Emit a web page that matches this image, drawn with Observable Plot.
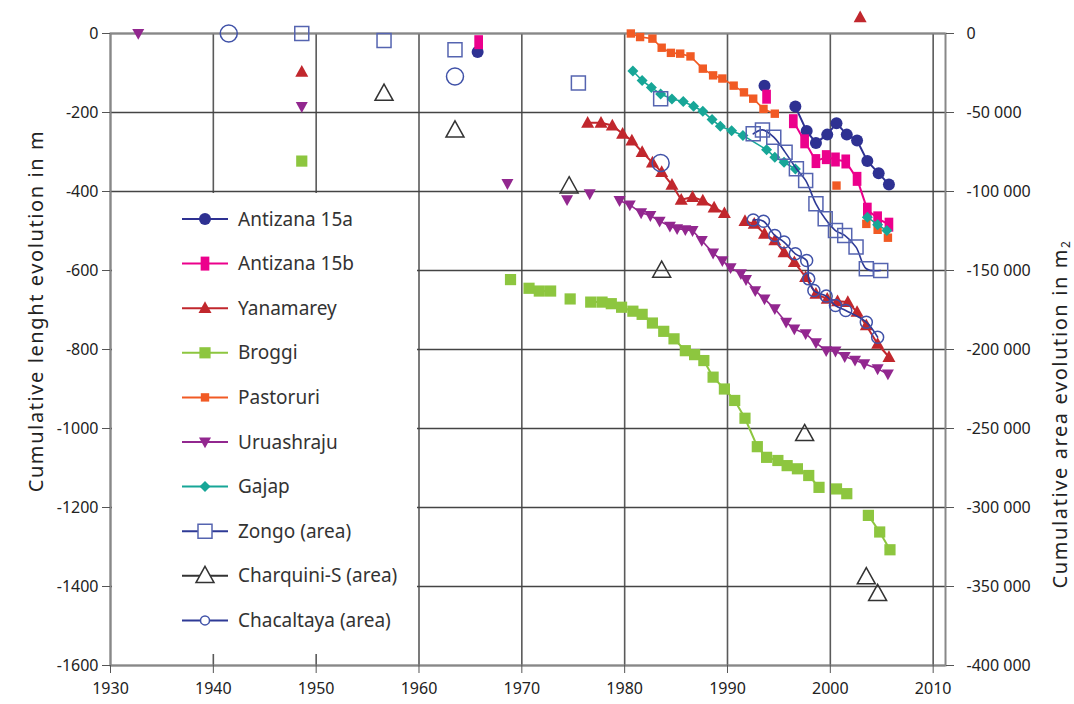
<!DOCTYPE html>
<html><head><meta charset="utf-8">
<script src="https://cdn.jsdelivr.net/npm/d3@7"></script>
<script src="https://cdn.jsdelivr.net/npm/@observablehq/plot@0.6"></script>
<style>
body{margin:0;background:#fff;}
#wrap{position:relative;width:1074px;height:704px;overflow:hidden;background:#fff;}
#legend{position:absolute;left:112px;top:193px;width:305px;height:461px;background:#fff;}
.title{position:absolute;white-space:nowrap;font-family:"Noto Sans",sans-serif;font-size:20px;letter-spacing:1.6px;color:#222;transform:translate(-50%,-50%) rotate(-90deg);}
</style></head><body><div id="wrap"></div>
<script>
// ---- data: [year, value, segment] (segments = connected runs) ----
const xTicks = [1930,1940,1950,1960,1970,1980,1990,2000,2010];
const yTicks = [-1600,-1400,-1200,-1000,-800,-600,-400,-200,0];
const areaPerMetre = 250; // right axis: -400 000 m² at -1600 m

const antizana15a = [[1965.7,-47,0],[1993.6,-132,1],[1996.6,-185,2],[1997.7,-247,2],[1998.6,-277,2],[1999.7,-256,2],[2000.6,-227,2],[2001.6,-256,2],[2002.6,-271,2],[2003.6,-323,2],[2004.7,-354,2],[2005.7,-382,2]];
const antizana15b = [[1965.8,-22,0],[1993.8,-160,1],[1996.4,-222,2],[1997.5,-273,2],[1998.6,-323,2],[1999.6,-313,2],[2000.5,-319,2],[2001.5,-324,2],[2002.6,-368,2],[2003.6,-446,2],[2004.6,-468,2],[2005.7,-484,2]];
const yanamarey = [[1948.6,-97,0],[1976.4,-226,1],[1977.7,-226,1],[1978.8,-233,1],[1979.8,-254,1],[1980.7,-271,1],[1981.7,-300,1],[1982.7,-327,1],[1983.6,-351,1],[1984.6,-383,1],[1985.5,-421,1],[1986.6,-414,1],[1987.6,-423,1],[1988.7,-441,1],[1989.7,-455,1],[1991.7,-475,2],[1992.6,-482,2],[1993.6,-507,2],[1994.6,-524,2],[1995.5,-554,2],[1996.5,-579,2],[1997.6,-617,2],[1998.6,-659,2],[1999.7,-672,2],[2000.7,-678,2],[2001.7,-680,2],[2002.6,-705,2],[2003.5,-739,2],[2004.6,-786,2],[2005.7,-819,2],[2002.9,41,3]];
const broggi = [[1948.6,-323,0],[1968.9,-623,1],[1970.7,-645,2],[1971.7,-652,2],[1972.8,-652,2],[1974.7,-672,3],[1976.7,-680,4],[1977.8,-680,4],[1978.7,-684,4],[1979.7,-693,4],[1980.8,-703,4],[1981.7,-711,4],[1982.7,-733,4],[1983.8,-754,4],[1984.8,-773,4],[1985.9,-803,4],[1986.8,-813,4],[1987.7,-828,4],[1988.6,-870,4],[1989.7,-900,4],[1990.7,-929,4],[1991.7,-974,4],[1992.9,-1046,4],[1993.8,-1073,4],[1994.9,-1081,4],[1995.8,-1094,4],[1996.8,-1102,4],[1997.9,-1119,4],[1998.9,-1149,4],[2000.6,-1153,5],[2001.6,-1165,5],[2003.7,-1220,6],[2004.8,-1262,6],[2005.8,-1307,6]];
const pastoruri = [[1980.6,0,0],[1981.5,-9,0],[1982.7,-13,0],[1983.6,-36,0],[1984.5,-49,0],[1985.4,-51,0],[1986.4,-58,0],[1987.6,-89,0],[1988.6,-106,0],[1989.5,-114,0],[1990.6,-132,0],[1991.6,-149,0],[1992.5,-165,0],[1993.5,-191,0],[1994.6,-203,0],[2000.6,-385,1],[2003.5,-482,2],[2004.6,-497,3],[2005.6,-517,4]];
const uruashraju = [[1932.7,0,0],[1948.6,-185,1],[1968.6,-380,2],[1974.4,-421,3],[1976.6,-406,4],[1979.5,-423,5],[1980.5,-434,5],[1981.6,-454,5],[1982.5,-461,5],[1983.4,-475,5],[1984.4,-488,5],[1985.1,-494,5],[1985.9,-497,5],[1986.6,-499,5],[1987.5,-524,5],[1988.6,-556,5],[1989.5,-575,5],[1990.3,-593,5],[1991.3,-608,5],[1991.8,-623,5],[1992.7,-651,5],[1993.6,-672,5],[1994.6,-697,5],[1995.7,-731,5],[1996.5,-748,5],[1997.6,-760,5],[1998.6,-783,5],[1999.6,-803,5],[2000.5,-804,5],[2001.4,-818,5],[2002.4,-827,5],[2003.3,-836,5],[2004.6,-849,5],[2005.6,-862,5]];
const gajap = [[1980.8,-95,0],[1981.7,-119,0],[1982.6,-137,0],[1983.5,-153,0],[1984.6,-166,0],[1985.7,-172,0],[1986.7,-184,0],[1987.6,-197,0],[1988.5,-218,0],[1989.3,-235,0],[1990.4,-246,0],[1991.5,-258,0],[1993.8,-294,0],[1994.6,-313,0],[1995.5,-326,0],[1996.6,-343,0],[2003.6,-465,1],[2004.6,-484,1],[2005.5,-499,1]];
// area series, values in m²
const zongoArea = [[1948.6,0,0],[1956.6,-4400,1],[1963.5,-10300,2],[1975.5,-31400,3],[1983.5,-41300,4],[1992.5,-63500,5],[1993.4,-61000,5],[1994.5,-65600,5],[1995.6,-75100,5],[1996.7,-85600,5],[1997.6,-93000,5],[1998.6,-107800,5],[1999.5,-117300,5],[2000.5,-124700,5],[2001.4,-127800,5],[2002.5,-135200,5],[2003.5,-148900,5],[2004.9,-150000,5]];
const charquiniArea = [[1956.6,-38000,0],[1963.5,-61300,1],[1974.6,-96600,2],[1983.6,-150000,3],[1997.5,-253400,4],[2003.5,-344000,5],[2004.6,-354600,6]];
const chacaltayaArea = [[1941.5,0,0],[1963.5,-27200,1],[1983.5,-82000,2],[1992.5,-118000,3],[1993.5,-118800,3],[1994.6,-127800,3],[1995.5,-132000,3],[1996.6,-139400,3],[1997.7,-143700,3],[1997.9,-155300,3],[1998.4,-162700,3],[1999.6,-166200,3],[2000.5,-172200,3],[2001.5,-175300,3],[2003.5,-182700,3],[2004.6,-192200,3]];

const seriesNames = ["Antizana 15a","Antizana 15b","Yanamarey","Broggi","Pastoruri","Uruashraju","Gajap","Zongo (area)","Charquini-S (area)","Chacaltaya (area)"];

// ---- symbols (r = half-width) ----
const R = s => Math.sqrt(s/Math.PI);
const sym = {
  circle:{draw(c,s){const r=R(s);c.moveTo(r,0);c.arc(0,0,r,0,2*Math.PI);}},
  square:{draw(c,s){const r=R(s);c.rect(-r,-r,2*r,2*r);}},
  tall:{draw(c,s){const r=R(s);c.rect(-0.62*r,-r,1.24*r,2*r);}},
  triUp:{draw(c,s){const r=R(s);c.moveTo(0,-r*1.05);c.lineTo(r,r*0.75);c.lineTo(-r,r*0.75);c.closePath();}},
  triDown:{draw(c,s){const r=R(s);c.moveTo(0,r*1.05);c.lineTo(r,-r*0.75);c.lineTo(-r,-r*0.75);c.closePath();}},
  diamond:{draw(c,s){const r=R(s);c.moveTo(0,-r);c.lineTo(r,0);c.lineTo(0,r);c.lineTo(-r,0);c.closePath();}}
};

const toM = v => v/areaPerMetre;
const series = [
  {name:seriesNames[0], data:antizana15a, area:false, color:"#2e3192", line:"#2e3192", lw:2, symbol:sym.circle, r:6, fill:true},
  {name:seriesNames[1], data:antizana15b, area:false, color:"#ec008c", line:"#ec008c", lw:2, symbol:sym.tall, r:7, fill:true},
  {name:seriesNames[2], data:yanamarey, area:false, color:"#c1272d", line:"#c1272d", lw:2, symbol:sym.triUp, r:6.5, fill:true},
  {name:seriesNames[3], data:broggi, area:false, color:"#8dc63f", line:"#8dc63f", lw:2, symbol:sym.square, r:5.6, fill:true},
  {name:seriesNames[4], data:pastoruri, area:false, color:"#f15a24", line:"#f15a24", lw:1.6, symbol:sym.square, r:4.2, fill:true},
  {name:seriesNames[5], data:uruashraju, area:false, color:"#92278f", line:"#92278f", lw:1.6, symbol:sym.triDown, r:6, fill:true},
  {name:seriesNames[6], data:gajap, area:false, color:"#17a697", line:"#17a697", lw:1.6, symbol:sym.diamond, r:5.5, fill:true},
  {name:seriesNames[7], data:zongoArea, area:true, color:"#5564b0", line:"#2e3a96", lw:1.6, symbol:sym.square, r:7, fill:false, curve:"catmull-rom"},
  {name:seriesNames[8], data:charquiniArea, area:true, color:"#333", line:"#333", lw:1.3, symbol:sym.triUp, r:9, fill:false, noLine:true},
  {name:seriesNames[9], data:chacaltayaArea, area:true, color:"#4052a8", line:"#2e3a96", lw:1.6, symbol:sym.circle, r:6, rIso:8.5, fill:false, curve:"catmull-rom"}
];

const marks = [
  Plot.gridX(xTicks, {stroke:"#5a5a5a", strokeOpacity:1, strokeWidth:1.6}),
  Plot.gridY(yTicks, {stroke:"#444", strokeOpacity:1, strokeWidth:1.3}),
  Plot.frame({stroke:"#888", strokeWidth:2}),
  Plot.axisX(xTicks, {tickSize:8, tickPadding:9, tickFormat:d=>String(d), label:null, stroke:"#555", fontSize:16}),
  Plot.axisY(yTicks, {anchor:"left", tickSize:8, tickPadding:4, tickFormat:d=>String(d), label:null, stroke:"#555", fontSize:16}),
  Plot.axisY(yTicks, {anchor:"right", tickSize:8, tickPadding:13, label:null, stroke:"#555", fontSize:16,
    tickFormat:d=>{const n=Math.round(d*areaPerMetre); return n===0?"0":"-"+String(Math.abs(n)).replace(/\B(?=(\d{3})+(?!\d))/g," ");}})
];

for (const s of series) {
  const yv = d => s.area ? toM(d[1]) : d[1];
  const segCount = d3.rollup(s.data, v=>v.length, d=>d[2]);
  const joined = s.data.filter(d => segCount.get(d[2]) > 1);
  if (!s.noLine) marks.push(Plot.line(joined, {x:d=>d[0], y:yv, z:d=>d[2], stroke:s.line, strokeWidth:s.lw, curve:s.curve||"linear"}));
  marks.push(Plot.dot(s.data, {x:d=>d[0], y:yv, symbol:s.symbol,
    r: s.rIso ? (d=>segCount.get(d[2])===1 ? s.rIso : s.r) : s.r,
    fill: s.fill ? s.color : "none", stroke: s.fill ? "none" : s.color, strokeWidth: s.fill?0:1.5}));
}

const chart = Plot.plot({
  width:1074, height:704,
  marginLeft:110, marginRight:129, marginTop:33, marginBottom:39,
  x:{domain:[1930,2011.2], type:"linear"},
  y:{domain:[-1600,0], type:"linear"},
  r:{type:"identity"},
  style:{fontFamily:"'Liberation Sans Narrow','Noto Sans',sans-serif", fontSize:"16px", color:"#222", background:"#fff", overflow:"visible"},
  marks
});
const wrap = document.getElementById("wrap");
wrap.appendChild(chart);

// legend
const leg = document.createElement("div"); leg.id="legend"; wrap.appendChild(leg);
const lsvg = d3.select(leg).append("svg").attr("width",305).attr("height",461);
series.forEach((s,i)=>{
  const y = 26 + i*44.6;
  const g = lsvg.append("g");
  g.append("line").attr("x1",70).attr("x2",116).attr("y1",y).attr("y2",y).attr("stroke",s.line).attr("stroke-width",2);
  const rr = s.name.startsWith("Chacaltaya") ? 4.5 : (s.name.startsWith("Charquini") ? 9 : s.r);
  g.append("path").attr("transform",`translate(93,${y})`).attr("d",d3.symbol(s.symbol, rr*rr*Math.PI)())
    .attr("fill", s.fill?s.color:"#fff").attr("stroke", s.fill?"none":s.color).attr("stroke-width",1.5);
  g.append("text").attr("x",126).attr("y",y).attr("dy","0.35em").attr("font-family","'Noto Sans',sans-serif").attr("font-size",19).attr("fill","#333").text(s.name);
});

// axis titles
const t1 = document.createElement("div"); t1.className="title"; t1.style.left="35px"; t1.style.top="311px";
t1.textContent="Cumulative lenght evolution in m"; wrap.appendChild(t1);
const t2 = document.createElement("div"); t2.className="title"; t2.style.left="1060px"; t2.style.top="414px";
t2.innerHTML="Cumulative area evolution in m<span style=\"font-size:0.6em;vertical-align:-0.25em\">2</span>"; wrap.appendChild(t2);
</script></body></html>
